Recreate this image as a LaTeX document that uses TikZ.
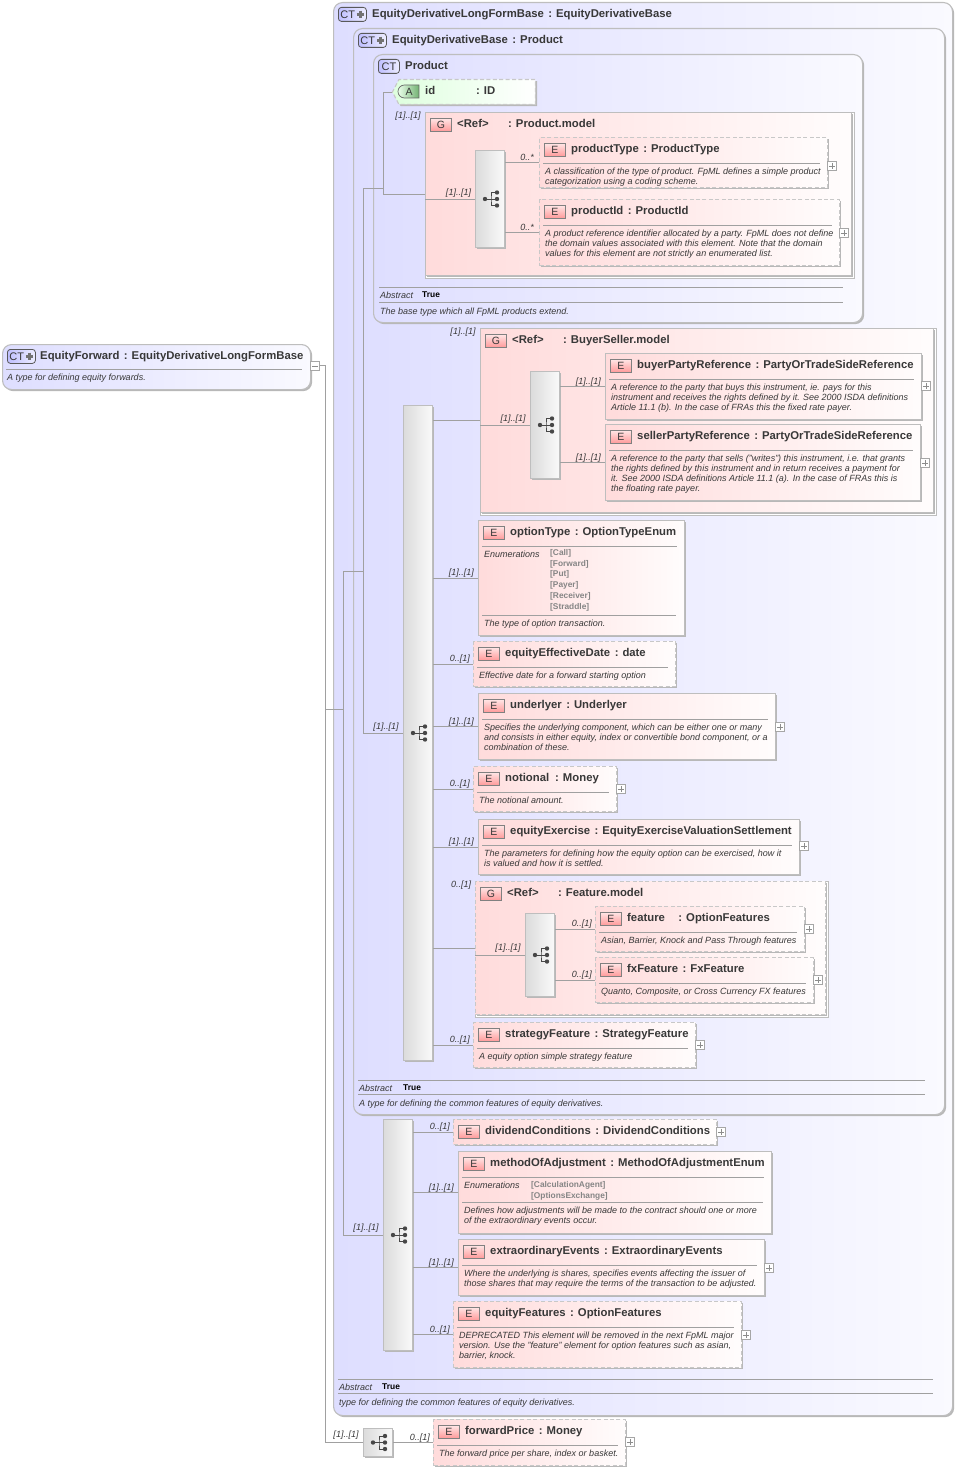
\documentclass[tikz,border=0pt]{standalone}
\usepackage{fontspec}
\setmainfont{Liberation Sans}
\usetikzlibrary{shapes.symbols,shapes.misc}
\definecolor{inkc}{HTML}{383838}
\definecolor{linec}{HTML}{A0A0A0}
\definecolor{edgec}{HTML}{BEBEBE}
\definecolor{dashc}{HTML}{C8C8C8}
\newcommand\ttlfont{\fontsize{11.32}{12}\selectfont\bfseries}
\newcommand\dscfont{\fontsize{9}{10}\selectfont\itshape}
\newcommand\enufont{\fontsize{8.35}{10.8}\selectfont\bfseries}
\tikzset{
  shade shadow/.style={preaction={fill=black!28,transform canvas={shift={(1.6pt,-1.6pt)}}}},
  ctframe/.style={shade shadow,draw=edgec,line width=1.1pt,rounded corners=9pt,left color=blue!13,right color=blue!2},
  elemS/.style={shade shadow,draw=edgec,line width=1.2pt,left color=red!14,right color=red!1},
  elemD/.style={shade shadow,draw=dashc,line width=1.1pt,dash pattern=on 4pt off 2.4pt,left color=red!14,right color=red!1},
  grpback/.style={draw=edgec,line width=.8pt,fill=white},
  compbox/.style={shade shadow,draw=edgec,line width=1pt,left color=black!14,right color=black!2},
  attrbox/.style={signal,signal to=west,signal from=nowhere,signal pointer angle=125,shade shadow,draw=dashc,line width=1.1pt,dash pattern=on 4pt off 2.4pt,left color=green!13,right color=white,inner sep=0},
  ttl/.style={text=inkc,font=\ttlfont,inner sep=0,anchor=base west},
  dsc/.style={text=inkc,font=\dscfont,inner sep=0,anchor=north west,align=left},
  abk/.style={text=inkc,font=\dscfont,inner sep=0,anchor=base west},
  abv/.style={text=black,font=\fontsize{8.4}{9}\selectfont\bfseries,inner sep=0,anchor=base west},
  enu/.style={text=black!48,font=\enufont,inner sep=0,anchor=north west,align=left},
  sep/.style={draw=linec,line width=.8pt},
  conn/.style={draw=linec,line width=.8pt},
  card/.style={text=inkc,font=\fontsize{9}{10}\selectfont\itshape,inner sep=0},
  iconE/.style={draw=black!50,line width=.7pt,top color=red!10,bottom color=red!40,minimum width=21pt,minimum height=13pt,inner sep=0,text=inkc,font=\fontsize{10.5}{10}\selectfont,anchor=north west},
  iconC/.style={draw=black!65,line width=.8pt,rounded corners=3pt,left color=blue!25,right color=blue!7,minimum height=14pt,inner sep=0,text=inkc,font=\fontsize{11}{10}\selectfont,anchor=north west},
  iconA/.style={rounded rectangle,rounded rectangle right arc=none,draw=black!60,line width=.7pt,left color=green!8,right color=green!45!black!55,minimum width=21pt,minimum height=13pt,inner sep=0,text=inkc,font=\fontsize{10.5}{10}\selectfont,anchor=center},
  btn/.style={draw=black!35,line width=.6pt,fill=white,minimum width=9pt,minimum height=9pt,inner sep=0,anchor=north west},
  btnplus/.style={btn,path picture={\draw[black!45,line width=.5pt] ([xshift=1.5pt]path picture bounding box.west)--([xshift=-1.5pt]path picture bounding box.east) ([yshift=-1.5pt]path picture bounding box.north)--([yshift=1.5pt]path picture bounding box.south);}},
  btnminus/.style={btn,path picture={\draw[black!45,line width=.5pt] ([xshift=1.5pt]path picture bounding box.west)--([xshift=-1.5pt]path picture bounding box.east);}},
}
% {style}{id}{x1}{y1}{x2}{y2}
\newcommand\boxn[6]{\pgfmathsetmacro\bw{#5-#3}\pgfmathsetmacro\bh{#6-#4}%
  \node[#1,anchor=north west,minimum width=\bw pt,minimum height=\bh pt,inner sep=0] (#2) at (#3,#4) {};}
% CT icon: {id}{plus 0/1}
\newcommand\cticon[2]{%
  \ifnum#2=1
    \node[iconC,minimum width=28pt,text width=26pt,align=left] (#1-icon) at ([shift={(5pt,-5pt)}]#1.north west) {\hspace{1pt}CT};
    \draw[black!55,line width=2.3pt] ([xshift=-10pt]#1-icon.east)--([xshift=-2.6pt]#1-icon.east) ([shift={(-6.3pt,3.7pt)}]#1-icon.east)--([shift={(-6.3pt,-3.7pt)}]#1-icon.east);
  \else
    \node[iconC,minimum width=21pt] (#1-icon) at ([shift={(5pt,-5pt)}]#1.north west) {CT};
  \fi}
% element: {style}{id}{x1}{y1}{x2}{y2}{title}{desc baseline-top offset}{desc}
\newcommand\elem[9]{\boxn{#1}{#2}{#3}{#4}{#5}{#6}
  \node[iconE] (#2-icon) at ([shift={(5pt,-6pt)}]#2.north west) {E};
  \node[ttl] (#2-title) at ([shift={(32pt,-15pt)}]#2.north west) {#7};
  \draw[sep] ([shift={(4pt,-26pt)}]#2.north west) -- ([shift={(-8pt,-26pt)}]#2.north east);
  \node[dsc] (#2-desc) at ([shift={(6pt,-#8pt)}]#2.north west) {\rule{0pt}{7pt}#9};}
% group: {style}{id}{x1}{y1}{x2}{y2}{ref}{type}
\newcommand\grp[8]{%
  \pgfmathsetmacro\gxb{#5+2.5}\pgfmathsetmacro\gyb{#6+2.5}
  \boxn{grpback}{#2-back}{#3}{#4}{\gxb}{\gyb}
  \boxn{#1}{#2}{#3}{#4}{#5}{#6}
  \node[iconE] (#2-icon) at ([shift={(5pt,-6pt)}]#2.north west) {G};
  \node[ttl] (#2-title) at ([shift={(32pt,-15.4pt)}]#2.north west) {#7};
  \node[ttl] (#2-type) at ([shift={(83pt,-15.4pt)}]#2.north west) {#8};}
% connector with cardinality: {from}{to}{label}{gap}
\newcommand\conlab[4]{%
  \draw[conn] (#1.east |- #2.west) -- (#2.west);
  \node[card,anchor=base east] (#2-card) at ([shift={(-#4pt,2.5pt)}]#2.west) {#3};}
% {compositor} icon
\newcommand\seqi[1]{%
  \fill[black!72] ([xshift=-5pt]#1.center) circle (2.2pt);
  \fill[black!72] ([shift={(7pt,6.5pt)}]#1.center) circle (2.2pt);
  \fill[black!72] ([shift={(7pt,0pt)}]#1.center) circle (2.2pt);
  \fill[black!72] ([shift={(7pt,-6.5pt)}]#1.center) circle (2.2pt);
  \draw[black!72,line width=.8pt] ([xshift=-5pt]#1.center) -- ([xshift=7pt]#1.center)
     ([shift={(7pt,6.5pt)}]#1.center) -| ([xshift=1pt]#1.center) |- ([shift={(7pt,-6.5pt)}]#1.center);}
% abstract rows {id}{xL}{xR}{sep1}{sep2}{trueX}{desc}
\newcommand\absr[7]{%
  \draw[sep] (#2,#4) -- (#3,#4);
  \draw[sep] (#2,#5) -- (#3,#5);
  \pgfmathsetmacro\axx{#2+1}\pgfmathsetmacro\ayy{#4+11}\pgfmathsetmacro\atv{#4+10}\pgfmathsetmacro\ady{#5+12}
  \node[abk] (#1-k) at (\axx,\ayy) {Abstract};
  \node[abv] (#1-v) at (#6,\atv) {True};
  \node[abk] (#1-d) at (\axx,\ady) {#7};}
\newcommand\colgap{\hspace{4.5pt}:\hspace{4pt}}
\begin{document}
\begin{tikzpicture}[x=1pt,y=-1pt]
\useasboundingbox (0,0) rectangle (957,1469);
% ---- frames
\boxn{ctframe}{root}{2}{344}{310}{389}
\cticon{root}{1}
\node[ttl] (root-title) at (40,359) {EquityForward\colgap EquityDerivativeLongFormBase};
\draw[sep] (6,369) -- (302,369);
\node[dsc] (root-desc) at (7,373) {\rule{0pt}{7pt}A type for defining equity forwards.};
\node[btnminus] (rootbtn) at (310,361) {};

\boxn{ctframe}{L}{333}{2}{952}{1415}
\cticon{L}{1}
\node[ttl] (L-title) at (372,17.7) {EquityDerivativeLongFormBase\colgap EquityDerivativeBase};
\boxn{ctframe}{D}{353}{28}{944}{1114}
\cticon{D}{1}
\node[ttl] (D-title) at (392,43.7) {EquityDerivativeBase\colgap Product};
\boxn{ctframe}{P}{373}{54}{862}{322}
\cticon{P}{0}
\node[ttl] (P-title) at (405,69.7) {Product};

% ---- attribute
\node[attrbox,anchor=east,minimum width=143pt,minimum height=25pt] (idattr) at (536,92) {};
\node[iconA] (idattr-icon) at (409,91.5) {A};
\node[ttl] (idattr-name) at (425,94.7) {id};
\node[ttl] (idattr-type) at (476,94.7) {:\hspace{4pt}ID};

% ---- Product.model
\grp{elemS}{Gpm}{425}{112}{851}{275}{<Ref>}{:\hspace{4pt}Product.model}
\boxn{compbox}{Cpm}{475}{150}{504}{247}
\seqi{Cpm}
\elem{elemD}{pType}{539}{137}{827}{187}{productType\colgap ProductType}{30}{A classification of the type of product. FpML defines a simple product\\categorization using a coding scheme.}
\node[btnplus] (pType-b) at (827,161) {};
\elem{elemD}{pId}{539}{199}{839}{265}{productId\colgap ProductId}{30}{A product reference identifier allocated by a party. FpML does not define\\the domain values associated with this element. Note that the domain\\values for this element are not strictly an enumerated list.}
\node[btnplus] (pId-b) at (839,228) {};
\absr{Pa}{379}{843}{287}{302}{422}{The base type which all FpML products extend.}

% ---- main sequence
\boxn{compbox}{Cm}{403}{405}{432}{1060}
\seqi{Cm}
\grp{elemS}{Gbs}{480}{328}{933}{512}{<Ref>}{:\hspace{4pt}BuyerSeller.model}
\boxn{compbox}{Cbs}{530}{371}{559}{478}
\seqi{Cbs}
\elem{elemS}{buyer}{605}{353}{921}{419}{buyerPartyReference\colgap PartyOrTradeSideReference}{30}{A reference to the party that buys this instrument, ie. pays for this\\instrument and receives the rights defined by it. See 2000 ISDA definitions\\Article 11.1 (b). In the case of FRAs this the fixed rate payer.}
\node[btnplus] (buyer-b) at (921,381) {};
\elem{elemS}{seller}{605}{424}{920}{500}{sellerPartyReference\colgap PartyOrTradeSideReference}{30}{A reference to the party that sells ("writes") this instrument, i.e. that grants\\the rights defined by this instrument and in return receives a payment for\\it. See 2000 ISDA definitions Article 11.1 (a). In the case of FRAs this is\\the floating rate payer.}
\node[btnplus] (seller-b) at (920,458) {};
\elem{elemS}{optT}{478}{520}{684}{635}{optionType\colgap OptionTypeEnum}{99}{The type of option transaction.}
\node[abk] (optT-k) at (484,557) {Enumerations};
\node[enu] (optT-v) at (550,548) {\rule{0pt}{7pt}{[Call]}\\{[Forward]}\\{[Put]}\\{[Payer]}\\{[Receiver]}\\{[Straddle]}};
\draw[sep] (482,615) -- (676,615);
\elem{elemD}{effD}{473}{641}{675}{686}{equityEffectiveDate\colgap date}{30}{Effective date for a forward starting option}
\elem{elemS}{undl}{478}{693}{775}{759}{underlyer\colgap Underlyer}{30}{Specifies the underlying component, which can be either one or many\\and consists in either equity, index or convertible bond component, or a\\combination of these.}
\node[btnplus] (undl-b) at (775,722) {};
\elem{elemD}{notn}{473}{766}{616}{811}{notional\hspace{1.5pt}\colgap Money}{30}{The notional amount.}
\node[btnplus] (notn-b) at (616,784) {};
\elem{elemS}{exer}{478}{819}{799}{874}{equityExercise\colgap EquityExerciseValuationSettlement}{30}{The parameters for defining how the equity option can be exercised, how it\\is valued and how it is settled.}
\node[btnplus] (exer-b) at (799,841) {};
\grp{elemD}{Gfm}{475}{881}{825}{1014}{<Ref>}{:\hspace{4pt}Feature.model}
\boxn{compbox}{Cfm}{525}{913}{554}{996}
\seqi{Cfm}
\elem{elemD}{feat}{595}{906}{804}{951}{feature\hspace{9pt}\colgap OptionFeatures}{30}{Asian, Barrier, Knock and Pass Through features}
\node[btnplus] (feat-b) at (804,924) {};
\elem{elemD}{fxf}{595}{957}{813}{1002}{fxFeature\colgap FxFeature}{30}{Quanto, Composite, or Cross Currency FX features}
\node[btnplus] (fxf-b) at (813,975) {};
\elem{elemD}{strat}{473}{1022}{695}{1067}{strategyFeature\colgap StrategyFeature}{30}{A equity option simple strategy feature}
\node[btnplus] (strat-b) at (695,1040) {};
\absr{Da}{358}{925}{1080.5}{1094}{403}{A type for defining the common features of equity derivatives.}

% ---- second sequence
\boxn{compbox}{Cs}{383}{1119}{412}{1350}
\seqi{Cs}
\boxn{elemD}{divc}{453}{1119}{716}{1144}
\node[iconE] (divc-icon) at (458,1125) {E};
\node[ttl] (divc-title) at (485,1134) {dividendConditions\colgap DividendConditions};
\node[btnplus] (divc-b) at (716,1127) {};
\elem{elemS}{meth}{458}{1151}{771}{1233}{methodOfAdjustment\colgap MethodOfAdjustmentEnum}{55}{Defines how adjustments will be made to the contract should one or more\\of the extraordinary events occur.}
\node[abk] (meth-k) at (464,1188) {Enumerations};
\node[enu] (meth-v) at (531,1180) {\rule{0pt}{7pt}{[CalculationAgent]}\\{[OptionsExchange]}};
\draw[sep] (462,1202) -- (763,1202);
\elem{elemS}{extr}{458}{1239}{764}{1295}{extraordinaryEvents\colgap ExtraordinaryEvents}{30}{Where the underlying is shares, specifies events affecting the issuer of\\those shares that may require the terms of the transaction to be adjusted.}
\node[btnplus] (extr-b) at (764,1263) {};
\elem{elemD}{eqfe}{453}{1301}{741}{1367}{equityFeatures\colgap OptionFeatures}{30}{DEPRECATED This element will be removed in the next FpML major\\version. Use the "feature" element for option features such as asian,\\barrier, knock.}
\node[btnplus] (eqfe-b) at (741,1330) {};
\absr{La}{338}{933}{1379}{1393.5}{382}{type for defining the common features of equity derivatives.}

% ---- bottom
\boxn{compbox}{Cb}{363}{1428}{392}{1456}
\seqi{Cb}
\elem{elemD}{fwdp}{433}{1419}{625}{1465}{forwardPrice\colgap Money}{30}{The forward price per share, index or basket.}
\node[btnplus] (fwdp-b) at (625,1437) {};

% ---- connectors
\coordinate (busA) at (325,0);
\coordinate (busB) at (343,0);
\coordinate (busC) at (363,0);
\coordinate (busD) at (383,0);
\draw[conn] (rootbtn.east) -| (busA |- Cb.west) -- (Cb.west);
\draw[conn] (busA |- L.west) -- (busB |- L.west);
\draw[conn] (busB |- D.west) -- (busB |- Cs.west) -- (Cs.west);
\draw[conn] (busB |- D.west) -- (busC |- D.west);
\draw[conn] (busC |- P.west) -- (busC |- Cm.west) -- (Cm.west);
\draw[conn] (busC |- P.west) -- (busD |- P.west);
\draw[conn] (idattr.west) -- (busD |- idattr.west) -- (busD |- Gpm.west) -- (Gpm.west);
\draw[conn] (Gpm.west |- Cpm.west) -- (Cpm.west);
\draw[conn] (Cm.east |- Gbs.west) -- (Gbs.west);
\draw[conn] (Gbs.west |- Cbs.west) -- (Cbs.west);
\draw[conn] (Cm.east |- Gfm.west) -- (Gfm.west);
\draw[conn] (Gfm.west |- Cfm.west) -- (Cfm.west);
\conlab{Cpm}{pType}{0..*}{5}
\conlab{Cpm}{pId}{0..*}{5}
\conlab{Cbs}{buyer}{[1]..[1]}{4}
\conlab{Cbs}{seller}{[1]..[1]}{4}
\conlab{Cm}{optT}{[1]..[1]}{4}
\conlab{Cm}{effD}{0..[1]}{3}
\conlab{Cm}{undl}{[1]..[1]}{4}
\conlab{Cm}{notn}{0..[1]}{3}
\conlab{Cm}{exer}{[1]..[1]}{4}
\conlab{Cfm}{feat}{0..[1]}{3}
\conlab{Cfm}{fxf}{0..[1]}{3}
\conlab{Cm}{strat}{0..[1]}{3}
\conlab{Cs}{divc}{0..[1]}{3}
\conlab{Cs}{meth}{[1]..[1]}{4}
\conlab{Cs}{extr}{[1]..[1]}{4}
\conlab{Cs}{eqfe}{0..[1]}{3}
\conlab{Cb}{fwdp}{0..[1]}{3}
\node[card] (l-gpm) at (408,116) {[1]..[1]};
\node[card] (l-cpm) at (458.5,193) {[1]..[1]};
\node[card] (l-gbs) at (463,332) {[1]..[1]};
\node[card] (l-cbs) at (513,419) {[1]..[1]};
\node[card] (l-gfm) at (461,885) {0..[1]};
\node[card] (l-cfm) at (508,948) {[1]..[1]};
\node[card] (l-cm) at (386,727) {[1]..[1]};
\node[card] (l-cs) at (366,1228) {[1]..[1]};
\node[card] (l-cb) at (346,1435) {[1]..[1]};
\end{tikzpicture}
\end{document}
